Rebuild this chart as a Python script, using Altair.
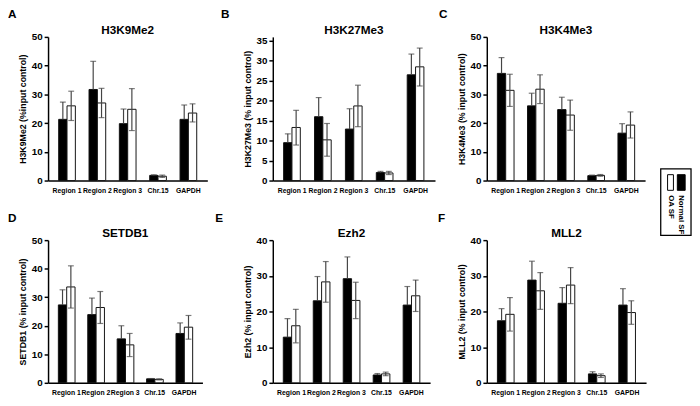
import altair as alt
import pandas as pd

FONT = "Liberation Sans"

categories = ["Region 1", "Region 2", "Region 3", "Chr.15", "GAPDH"]
series = ["Normal SF", "OA SF"]
letters = ["A", "B", "C", "D", "E", "F"]
titles = ["H3K9Me2", "H3K27Me3", "H3K4Me3", "SETDB1", "Ezh2", "MLL2"]
y_titles = [
    "H3K9Me2 (%input control)",
    "H3K27Me3 (% input control)",
    "H3K4Me3 (% input control)",
    "SETDB1 (% input control)",
    "Ezh2 (% input control)",
    "MLL2 (% input control)",
]
y_ticks = [
    [0, 10, 20, 30, 40, 50],
    [0, 5, 10, 15, 20, 25, 30, 35],
    [0, 10, 20, 30, 40, 50],
    [0, 10, 20, 30, 40, 50],
    [0, 10, 20, 30, 40],
    [0, 10, 20, 30, 40],
]
y_max = [50, 36, 50, 50, 40, 40]

# A: H3K9Me2
h3k9_normal = [21.3, 31.7, 19.8, 1.8, 21.3]
h3k9_normal_hi = [27.3, 41.5, 24.9, 2.0, 26.3]
h3k9_oa = [26.0, 27.0, 24.8, 1.5, 23.5]
h3k9_oa_hi = [31.1, 32.1, 32.0, 1.9, 26.7]
h3k9_oa_lo = [20.9, 21.9, 17.4, 1.1, 20.4]
# B: H3K27Me3
h3k27_normal = [9.5, 16.0, 12.9, 2.0, 26.5]
h3k27_normal_hi = [11.7, 20.8, 18.0, 2.3, 31.7]
h3k27_oa = [13.3, 10.2, 18.7, 1.9, 28.5]
h3k27_oa_hi = [17.6, 14.3, 23.9, 2.3, 33.2]
h3k27_oa_lo = [8.9, 6.1, 13.5, 1.5, 23.7]
# C: H3K4Me3
h3k4_normal = [37.3, 26.0, 24.7, 1.7, 16.5]
h3k4_normal_hi = [42.8, 30.4, 29.0, 1.9, 19.8]
h3k4_oa = [31.4, 31.8, 22.8, 1.8, 19.3]
h3k4_oa_hi = [37.0, 36.8, 28.0, 2.1, 23.9]
h3k4_oa_lo = [25.8, 26.8, 17.5, 1.5, 14.8]
# D: SETDB1
setdb1_normal = [27.3, 23.9, 15.4, 1.4, 17.3]
setdb1_normal_hi = [32.6, 29.7, 20.0, 1.5, 21.0]
setdb1_oa = [33.6, 26.4, 13.3, 1.2, 19.5]
setdb1_oa_hi = [41.0, 32.0, 17.3, 1.4, 23.6]
setdb1_oa_lo = [26.2, 20.8, 9.2, 1.0, 15.3]
# E: Ezh2
ezh2_normal = [12.8, 23.0, 29.2, 2.2, 21.8]
ezh2_normal_hi = [18.0, 29.8, 35.3, 2.6, 27.0]
ezh2_oa = [16.0, 28.3, 23.1, 2.5, 24.4]
ezh2_oa_hi = [20.6, 34.0, 28.2, 3.0, 28.8]
ezh2_oa_lo = [11.2, 22.6, 18.0, 2.0, 20.0]
# F: MLL2
mll2_normal = [17.4, 28.8, 22.3, 2.5, 21.8]
mll2_normal_hi = [20.8, 34.1, 26.7, 3.1, 26.4]
mll2_oa = [19.2, 25.8, 27.4, 2.0, 19.7]
mll2_oa_hi = [23.9, 30.9, 32.3, 2.5, 23.0]
mll2_oa_lo = [14.5, 20.6, 22.2, 1.5, 16.4]

panel_data = [
    (h3k9_normal, h3k9_normal_hi, h3k9_oa, h3k9_oa_hi, h3k9_oa_lo),
    (h3k27_normal, h3k27_normal_hi, h3k27_oa, h3k27_oa_hi, h3k27_oa_lo),
    (h3k4_normal, h3k4_normal_hi, h3k4_oa, h3k4_oa_hi, h3k4_oa_lo),
    (setdb1_normal, setdb1_normal_hi, setdb1_oa, setdb1_oa_hi, setdb1_oa_lo),
    (ezh2_normal, ezh2_normal_hi, ezh2_oa, ezh2_oa_hi, ezh2_oa_lo),
    (mll2_normal, mll2_normal_hi, mll2_oa, mll2_oa_hi, mll2_oa_lo),
]

COL_SPACING = 50
ROW_SPACING = 61
plot_widths = [163, 166, 162, 158, 161, 163]
cell_widths = [173, 169, 162, 180, 161, 163]
heights = [147, 147, 147, 146, 146, 146]
letter_x = [-41, -53, -49, -41, -59, -50]


def make_df(normal, normal_hi, oa, oa_hi, oa_lo):
    rows = []
    for i, c in enumerate(categories):
        rows.append({"category": c, "series": series[0], "value": normal[i],
                     "lo": normal[i], "hi": normal_hi[i], "haslo": 0})
        rows.append({"category": c, "series": series[1], "value": oa[i],
                     "lo": oa_lo[i], "hi": oa_hi[i], "haslo": 1})
    return pd.DataFrame(rows)


def panel(i, with_legend=False):
    df = make_df(*panel_data[i])
    pw, w, h = plot_widths[i], cell_widths[i], heights[i]
    x = alt.X("category:N", sort=categories,
              scale=alt.Scale(paddingInner=0.45, paddingOuter=0.35, range=[0, pw]),
              axis=alt.Axis(title=None, labelAngle=0, ticks=False, tickSize=0,
                            labelFontSize=7, labelFontWeight="bold", labelPadding=6,
                            labelOverlap=False, labelLimit=0, labelFont=FONT,
                            labelColor="black", domainColor="black", domainWidth=1.5))
    xo = alt.XOffset("series:N", sort=series,
                     scale=alt.Scale(paddingInner=0, paddingOuter=0))
    yaxis = alt.Axis(values=y_ticks[i], title=y_titles[i], grid=False,
                     tickSize=4, tickColor="black", tickWidth=1.5,
                     domainColor="black", domainWidth=1.5,
                     labelFontSize=10, labelFontWeight="bold", labelPadding=2,
                     labelFont=FONT, labelColor="black",
                     titleFontSize=9, titleFontWeight="bold", titleFont=FONT,
                     titleColor="black", titlePadding=4)
    yscale = alt.Scale(domain=[0, y_max[i]], nice=False)
    color = alt.Color("series:N", scale=alt.Scale(domain=series, range=["black", "white"]),
                      legend=None)
    base = alt.Chart(df)
    bars = base.mark_bar(stroke="#111", strokeWidth=1).encode(
        x=x, xOffset=xo, y=alt.Y("value:Q", scale=yscale, axis=yaxis), color=color)
    rules = base.mark_rule(color="#444", strokeWidth=1.2).encode(
        x=x, xOffset=xo, y=alt.Y("lo:Q", scale=yscale, axis=yaxis), y2="hi:Q")
    caps_hi = base.mark_tick(color="#444", thickness=1.2, size=6).encode(
        x=x, xOffset=xo, y=alt.Y("hi:Q", scale=yscale, axis=yaxis))
    caps_lo = base.transform_filter("datum.haslo == 1").mark_tick(
        color="#444", thickness=1.2, size=6).encode(
        x=x, xOffset=xo, y=alt.Y("lo:Q", scale=yscale, axis=yaxis))
    tdf = pd.DataFrame({"title": [titles[i]], "letter": [letters[i]]})
    title_txt = alt.Chart(tdf).mark_text(font=FONT, fontSize=12, fontWeight="bold",
                                         baseline="middle", align="center").encode(
        text="title:N", x=alt.value(pw / 2), y=alt.value(-7))
    letter_txt = alt.Chart(tdf).mark_text(font=FONT, fontSize=12, fontWeight="bold",
                                          baseline="middle", align="left").encode(
        text="letter:N", x=alt.value(letter_x[i]), y=alt.value(-23))
    layers = [bars, rules, caps_hi, caps_lo, title_txt, letter_txt]
    if with_legend:
        ldf = pd.DataFrame({"series": series})
        box = alt.Chart(ldf.head(1)).mark_rect(fill="white", stroke="black",
                                               strokeWidth=1.3).encode(
            x=alt.value(178), x2=alt.value(209), y=alt.value(135), y2=alt.value(203))
        sw_n = alt.Chart(ldf.head(1)).mark_rect(fill="black", stroke="black",
                                                strokeWidth=1).encode(
            x=alt.value(195), x2=alt.value(203), y=alt.value(141), y2=alt.value(157))
        sw_o = alt.Chart(ldf.tail(1)).mark_rect(fill="white", stroke="black",
                                                strokeWidth=1).encode(
            x=alt.value(185), x2=alt.value(191), y=alt.value(141), y2=alt.value(157))
        t_n = alt.Chart(ldf.head(1)).mark_text(font=FONT, fontSize=8, fontWeight="bold",
                                               angle=90, align="left",
                                               baseline="middle").encode(
            text="series:N", x=alt.value(199), y=alt.value(162))
        t_o = alt.Chart(ldf.tail(1)).mark_text(font=FONT, fontSize=8, fontWeight="bold",
                                               angle=90, align="left",
                                               baseline="middle").encode(
            text="series:N", x=alt.value(188), y=alt.value(162))
        layers += [box, sw_n, sw_o, t_n, t_o]
    return alt.layer(*layers).properties(width=w, height=h)


chart = alt.concat(
    panel(0), panel(1), panel(2, with_legend=True),
    panel(3), panel(4), panel(5),
    columns=3,
    spacing={"row": ROW_SPACING, "column": COL_SPACING},
    bounds="flush",
    align="none",
).properties(
    padding={"left": 0, "top": -4, "right": 0, "bottom": 0}
).configure_view(stroke=None)

chart.save("out.html", embed_options={"renderer": "svg", "actions": False})
